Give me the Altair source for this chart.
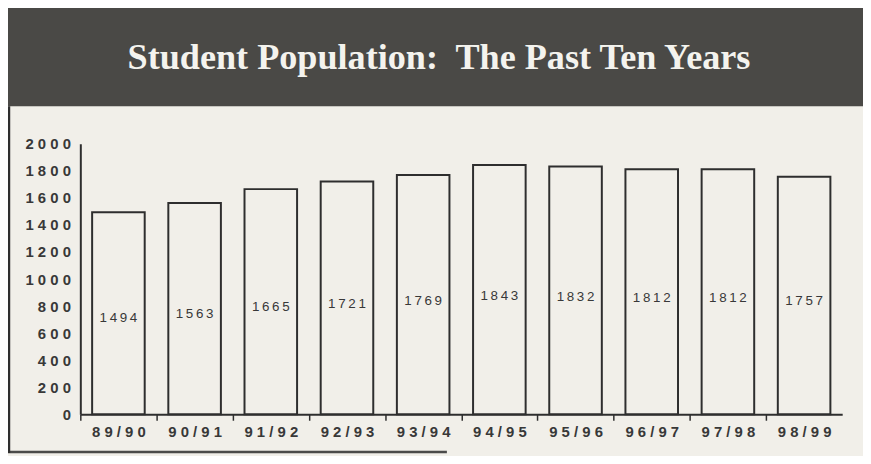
import altair as alt
import pandas as pd

# ---- data ----
years = ["89/90", "90/91", "91/92", "92/93", "93/94",
         "94/95", "95/96", "96/97", "97/98", "98/99"]
students = [1494, 1563, 1665, 1721, 1769, 1843, 1832, 1812, 1812, 1757]
y_ticks = [0, 200, 400, 600, 800, 1000, 1200, 1400, 1600, 1800, 2000]
title_text = "Student Population:\u00a0 The Past Ten Years"

df = pd.DataFrame({"year": years, "students": students})
one = pd.DataFrame({"title": [title_text]})

PAPER = "#f1efe9"
INK = "#2e2e2e"
TEXT = "#383838"
HEADER = "#4a4946"
SANS = "Liberation Sans"
SERIF = "Liberation Serif"

W, H = 769, 273
half_step = W / len(years) / 2

spaced = "join(split(datum.label, ''), ' ')"

x_scale = alt.Scale(domain=years, paddingInner=0.31, paddingOuter=0.155)
y_scale = alt.Scale(domain=[0, 2000], nice=False)

x_axis = alt.Axis(title=None, labelAngle=0, labelFont=SANS, labelFontSize=15,
                  labelFontWeight="bold", labelColor=TEXT, labelExpr=spaced,
                  tickOffset=-half_step, labelOffset=half_step,
                  tickSize=6, tickColor=INK, tickWidth=1.5,
                  domainColor=INK, domainWidth=2, labelPadding=4, grid=False)
y_axis = alt.Axis(title=None, values=y_ticks, format="d", ticks=False, grid=False,
                  labelPadding=10, labelFont=SANS, labelFontSize=15,
                  labelFontWeight="bold", labelColor=TEXT, labelExpr=spaced,
                  domainColor=INK, domainWidth=2)

# decorative header band, title and frame lines
header = alt.Chart(one).mark_rect(color=HEADER).encode(
    x=alt.value(-78), x2=alt.value(790), y=alt.value(-140), y2=alt.value(-38))
title = alt.Chart(one).mark_text(
    font=SERIF, fontSize=36.5, fontWeight="bold", color="#f4f3ee",
    align="center", baseline="alphabetic").encode(
    x=alt.value(362), y=alt.value(-76), text="title:N")
left_border = alt.Chart(one).mark_rule(color=INK, strokeWidth=2.5).encode(
    x=alt.value(-72), y=alt.value(-38), y2=alt.value(312))
bottom_border = alt.Chart(one).mark_rule(color=INK, strokeWidth=2.5, opacity=0.85).encode(
    x=alt.value(-73), x2=alt.value(370), y=alt.value(311))

bars = alt.Chart(df).mark_bar(fill=PAPER, stroke=INK, strokeWidth=2).encode(
    x=alt.X("year:N", sort=years, scale=x_scale, axis=x_axis),
    y=alt.Y("students:Q", scale=y_scale, axis=y_axis),
)

labels = alt.Chart(df).transform_calculate(
    ly="datum.students * 0.475",
    lbl="join(split(toString(datum.students), ''), '\u2009')",
).mark_text(font=SANS, fontSize=13.5, color=TEXT, baseline="middle").encode(
    x=alt.X("year:N", sort=years, scale=x_scale, axis=x_axis),
    y=alt.Y("ly:Q", scale=y_scale, axis=y_axis),
    text="lbl:N",
)

chart = alt.layer(header, title, left_border, bottom_border, bars, labels).properties(
    width=W,
    height=H,
    autosize=alt.AutoSizeParams(type="none"),
    padding={"left": 73, "top": 135, "right": 21, "bottom": 40},
    background=PAPER,
).configure_view(stroke=None)

chart.save("out.html", embed_options={"renderer": "svg", "actions": False})
